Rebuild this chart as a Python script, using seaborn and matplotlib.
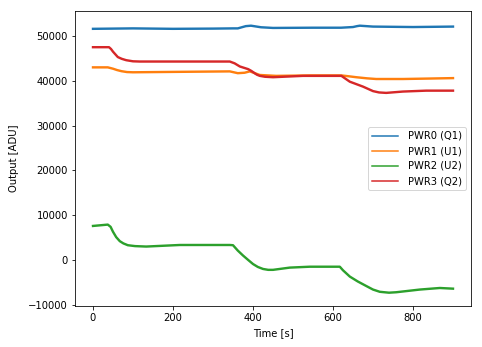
import numpy as np
import pandas as pd
import matplotlib
matplotlib.use("Agg")
import matplotlib.pyplot as plt
import seaborn as sns

labels = ["PWR0 (Q1)", "PWR1 (U1)", "PWR2 (U2)", "PWR3 (Q2)"]

t_pwr0 = [0, 100, 200, 300, 350, 362, 372, 382, 395, 420, 450, 550, 620, 650, 660, 667, 700, 800, 900]
v_pwr0 = [51600, 51700, 51600, 51650, 51700, 51700, 51950, 52200, 52300, 51950, 51800, 51850, 51850, 52000, 52200, 52300, 52100, 52000, 52100]

t_pwr1 = [0, 37, 50, 60, 71, 85, 100, 217, 342, 362, 379, 392, 417, 458, 540, 621, 640, 658, 685, 708, 775, 840, 900]
v_pwr1 = [43000, 43000, 42700, 42400, 42150, 41950, 41900, 42000, 42100, 41700, 41800, 42100, 41300, 41100, 41200, 41200, 41000, 40800, 40550, 40400, 40400, 40500, 40600]

t_pwr2 = [0, 37, 44, 50, 58, 67, 76, 87, 105, 133, 217, 342, 350, 362, 375, 388, 400, 412, 425, 438, 450, 492, 542, 617, 625, 642, 662, 683, 700, 717, 740, 758, 817, 867, 900]
v_pwr2 = [7600, 7900, 7400, 6300, 5100, 4200, 3700, 3300, 3100, 3000, 3350, 3350, 3300, 2100, 1000, 0, -900, -1550, -2000, -2200, -2200, -1700, -1500, -1500, -2300, -3700, -4800, -5800, -6600, -7100, -7300, -7200, -6600, -6250, -6400]

t_pwr3 = [0, 40, 45, 50, 56, 62, 72, 83, 100, 117, 342, 354, 367, 388, 396, 404, 410, 417, 430, 450, 525, 621, 642, 660, 675, 700, 715, 733, 775, 833, 900]
v_pwr3 = [47500, 47500, 47100, 46500, 45900, 45300, 44900, 44600, 44350, 44300, 44300, 43900, 43200, 42600, 42200, 41700, 41350, 41100, 40900, 40800, 41100, 41100, 39800, 39200, 38700, 37700, 37400, 37300, 37600, 37800, 37800]

frames = []
for lab, t, v in zip(labels, [t_pwr0, t_pwr1, t_pwr2, t_pwr3], [v_pwr0, v_pwr1, v_pwr2, v_pwr3]):
    frames.append(pd.DataFrame({"Time [s]": t, "Output [ADU]": v, "series": lab}))
df = pd.concat(frames, ignore_index=True)

plt.rcParams["font.family"] = ["DejaVu Sans"]
plt.rcParams["font.size"] = 10

fig = plt.figure(figsize=(482 / 72, 347 / 72), dpi=72)
ax = fig.add_axes([75 / 482, 1 - 306 / 347, (471 - 75) / 482, (306 - 11) / 347])

palette = ["#1f77b4", "#ff7f0e", "#2ca02c", "#d62728"]
sns.lineplot(data=df, x="Time [s]", y="Output [ADU]", hue="series", hue_order=labels,
             palette=palette, linewidth=2.4, ax=ax, sort=False, estimator=None)

ax.set_xlim(-45, 945)
ax.set_ylim(-10270, 55580)
ax.set_xticks([0, 200, 400, 600, 800])
ax.set_yticks([-10000, 0, 10000, 20000, 30000, 40000, 50000])
ax.set_xlabel("Time [s]", labelpad=5)
ax.set_ylabel("Output [ADU]", labelpad=9)

leg = ax.legend(loc="center right", title=None, handlelength=2.6, handletextpad=1.0)
for line in leg.get_lines():
    line.set_linewidth(1.5)

fig.savefig("out.png", dpi=72)
